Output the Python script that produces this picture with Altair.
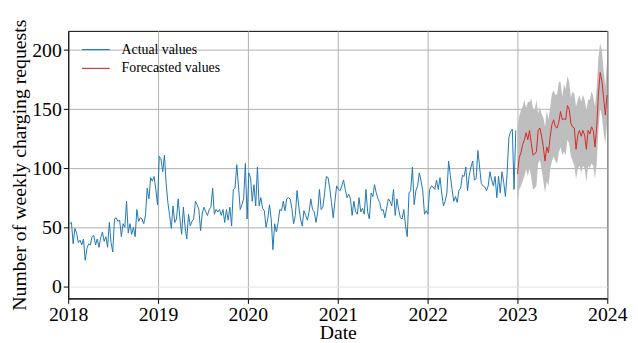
import altair as alt
import pandas as pd

# Weekly actual values, one list per year
actual_2018 = [53, 54, 36, 49, 45, 37, 39, 35, 40, 22, 32, 36, 35, 42, 43, 35, 40, 33, 41, 46,
               38, 42, 33, 54, 37, 29, 57, 58, 55, 56, 42, 53, 50, 72, 45, 53, 44, 50, 42, 65,
               55, 58, 57, 53, 60, 83, 74, 92, 89, 93, 82, 69]
actual_2019 = [110, 108, 97, 111, 87, 71, 60, 49, 68, 54, 57, 74, 57, 44, 67, 50, 40, 61, 51, 55,
               57, 72, 69, 65, 47, 62, 67, 63, 60, 65, 67, 83, 61, 65, 63, 65, 60, 65, 54, 65,
               56, 67, 51, 82, 83, 103, 85, 65, 69, 74, 104, 57]
actual_2020 = [96, 92, 72, 86, 68, 101, 68, 75, 66, 64, 50, 57, 69, 57, 31, 53, 46, 54, 65, 64,
               72, 64, 74, 75, 74, 66, 53, 60, 81, 68, 57, 51, 64, 60, 56, 63, 74, 65, 63, 54,
               63, 82, 65, 67, 79, 93, 92, 83, 71, 58, 72, 85]
actual_2021 = [82, 81, 85, 90, 82, 75, 78, 74, 60, 72, 63, 61, 75, 63, 66, 61, 82, 63, 57, 79,
               76, 86, 79, 74, 71, 64, 65, 58, 66, 74, 72, 68, 82, 60, 74, 65, 58, 57, 65, 51,
               42, 79, 81, 101, 69, 81, 85, 96, 89, 81, 61, 64]
actual_2022 = [61, 82, 85, 84, 82, 90, 82, 92, 79, 68, 72, 79, 106, 94, 82, 72, 76, 71, 81, 83,
               94, 93, 101, 81, 94, 101, 106, 90, 91, 115, 101, 87, 85, 84, 81, 85, 97, 90, 85, 93,
               75, 93, 79, 97, 88, 76, 96, 126, 131, 133, 82, 132]

# Weekly forecast for 2023 with its interval
forecast = [95, 109, 113, 120, 124, 130, 124, 132, 121, 111, 112, 114, 132, 134, 127, 118, 106, 118,
            113, 127, 137, 141, 135, 134, 139, 148, 141, 142, 141, 153, 150, 138, 135, 134, 116, 128,
            132, 127, 132, 128, 116, 132, 129, 135, 132, 118, 135, 163, 181, 174, 160, 145, 162]
upper = [135, 144, 149, 152, 158, 151, 156, 156, 159, 151, 150, 158, 146, 152, 146, 143, 135, 149,
         141, 152, 163, 166, 162, 163, 173, 173, 160, 171, 167, 178, 173, 160, 165, 163, 152, 158,
         162, 156, 162, 158, 149, 158, 158, 165, 161, 152, 169, 194, 206, 199, 183, 169, 191]
lower = [71, 82, 85, 89, 93, 99, 93, 100, 92, 82, 83, 85, 104, 107, 99, 89, 79, 89,
         85, 99, 106, 110, 106, 104, 113, 118, 111, 114, 111, 124, 121, 110, 106, 102, 91, 99,
         102, 96, 102, 100, 88, 102, 100, 104, 102, 91, 104, 132, 151, 144, 130, 121, 138]

series_names = ["Actual values", "Forecasted values"]
series_colors = ["#1f77b4", "#d62728"]
year_ticks = [2018, 2019, 2020, 2021, 2022, 2023, 2024]
y_ticks = [0, 50, 100, 150, 200]

actual = actual_2018 + actual_2019 + actual_2020 + actual_2021 + actual_2022
actual_dates = pd.date_range("2018-01-07", periods=len(actual), freq="7D")
fc_dates = pd.date_range("2023-01-01", periods=len(forecast), freq="7D")

line_df = pd.concat([
    pd.DataFrame({"date": actual_dates.strftime("%Y-%m-%d"), "value": actual, "series": series_names[0]}),
    pd.DataFrame({"date": fc_dates.strftime("%Y-%m-%d"), "value": forecast, "series": series_names[1]}),
])
band_df = pd.DataFrame({"date": fc_dates.strftime("%Y-%m-%d"), "lower": lower, "upper": upper})

FONT = "Liberation Serif"
xscale = alt.Scale(type="utc", domain=[alt.DateTime(year=2018, month=1, date=1, utc=True),
                                        alt.DateTime(year=2024, month=1, date=1, utc=True)])
yscale = alt.Scale(domain=[-10.3, 216.3], nice=False, zero=False)

xaxis = alt.Axis(title="Date", values=[alt.DateTime(year=y, month=1, date=1, utc=True) for y in year_ticks],
                 format="%Y", formatType="utc", labelFlush=False, labelOverlap=False,
                 labelFont=FONT, titleFont=FONT, labelPadding=1, titlePadding=-1)
yaxis = alt.Axis(title="Number of weekly charging requests", values=y_ticks,
                 labelFont=FONT, titleFont=FONT, titlePadding=2,
                 gridColor={"condition": {"test": "datum.value === 0", "value": "#e4e4e4"}, "value": "#b0b0b0"})

band = alt.Chart(band_df).mark_area(color="#bebebe", opacity=1).encode(
    x=alt.X("date:T", scale=xscale, axis=xaxis),
    y=alt.Y("lower:Q", scale=yscale, axis=yaxis),
    y2="upper:Q",
)

lines = alt.Chart(line_df).mark_line(strokeWidth=1).encode(
    x=alt.X("date:T", scale=xscale, axis=xaxis),
    y=alt.Y("value:Q", scale=yscale, axis=yaxis),
    color=alt.Color("series:N", scale=alt.Scale(domain=series_names, range=series_colors),
                    legend=alt.Legend(title=None, orient="none", legendX=20, legendY=11,
                                      symbolType="M-2,0H2", symbolSize=196, symbolStrokeWidth=1.1,
                                      labelFont=FONT, labelFontSize=14, labelColor="black",
                                      labelOffset=18, rowPadding=4, padding=0)),
    detail="series:N",
)

chart = alt.layer(band, lines).properties(
    width=546, height=271,
    padding={"left": 61, "top": 21, "right": 23, "bottom": 43},
    autosize=alt.AutoSizeParams(type="none"),
).configure_view(
    stroke="black", strokeWidth=1
).configure_axis(
    labelFont=FONT, labelFontSize=20, labelColor="black", labelPadding=2,
    titleFont=FONT, titleFontSize=20, titleFontWeight="normal", titleColor="black",
    domainColor="black", tickColor="black", tickSize=5, gridWidth=1, gridColor="#b0b0b0",
)

chart.save("out.html", embed_options={"renderer": "svg", "actions": False})
